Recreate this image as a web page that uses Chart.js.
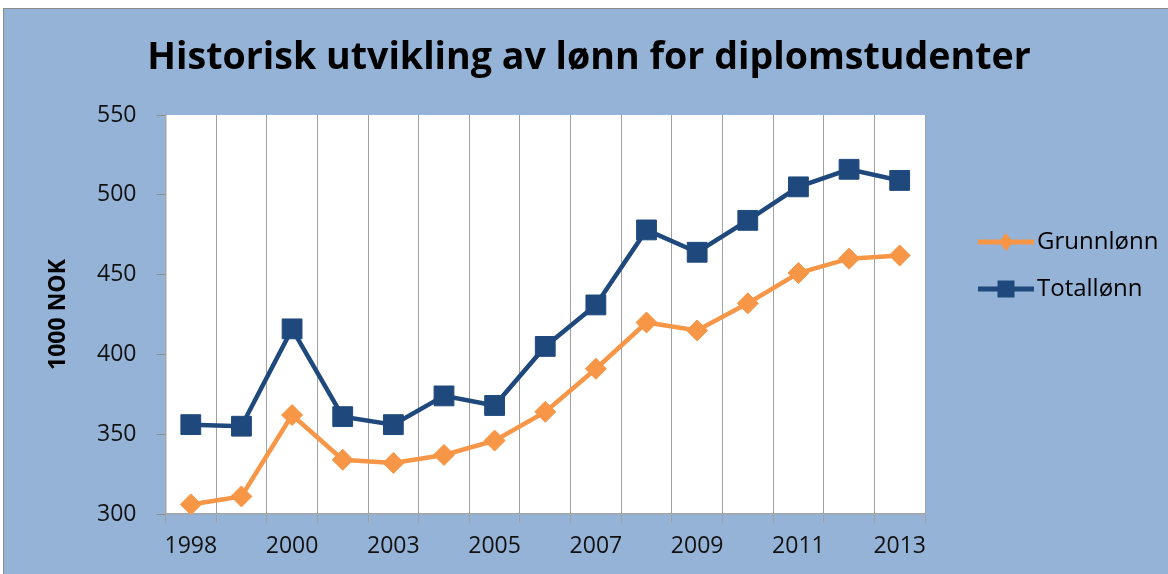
<!DOCTYPE html>
<html>
<head>
<meta charset="utf-8">
<script src="https://cdn.jsdelivr.net/npm/chart.js@4.4.1/dist/chart.umd.min.js"></script>
<style>
  html, body { margin: 0; padding: 0; background: #fff; }
  #panel {
    position: absolute; left: 3px; top: 8px; width: 1165px; height: 566px;
    background: #95B3D7; border-left: 1px solid #8c8c8c; border-top: 1px solid #8c8c8c;
  }
  #wrap { position: absolute; left: 0; top: 0; width: 1164px; height: 565px; }
</style>
</head>
<body>
<div id="panel"><div id="wrap"><canvas id="chart_lonn"></canvas></div></div>
<script>
// years (Excel shows every other label)
const years = ['1998', '1999', '2000', '2002', '2003', '2004', '2005', '2006', '2007', '2008', '2009', '2010', '2011', '2012', '2013'];
const grunnlonn = [306, 311, 362, 334, 332, 337, 346, 364, 391, 420, 415, 432, 451, 460, 462];
const totallonn = [356, 355, 416, 361, 356, 374, 368, 405, 431, 478, 464, 484, 505, 516, 509];
const yTicks = [300, 350, 400, 450, 500, 550];

const orange = '#F79646';
const blue = '#1F497D';

// legend icon: line with marker in the middle, like Excel
function makeLegendIcon(color, kind) {
  const c = document.createElement('canvas');
  c.width = 65;
  c.height = 24;
  const g = c.getContext('2d');
  g.strokeStyle = color;
  g.lineWidth = 5;
  g.beginPath();
  g.moveTo(9, 12);
  g.lineTo(65, 12);
  g.stroke();
  g.fillStyle = color;
  g.beginPath();
  if (kind == 'diamond') {
    g.moveTo(37, 3);
    g.lineTo(44, 12);
    g.lineTo(37, 21);
    g.lineTo(30, 12);
    g.closePath();
  } else {
    g.rect(28.5, 3.5, 17, 17);
  }
  g.fill();
  return c;
}
const legendIcons = [makeLegendIcon(orange, 'diamond'), makeLegendIcon(blue, 'square')];

const plotBackground = {
  id: 'plotBackground',
  beforeDraw(chart) {
    const a = chart.chartArea;
    chart.ctx.save();
    chart.ctx.fillStyle = '#ffffff';
    chart.ctx.fillRect(a.left, a.top, a.right - a.left, a.bottom - a.top);
    chart.ctx.restore();
  }
};

// put the legend where Excel had it
const legendPlace = {
  id: 'legendPlace',
  afterLayout(chart) {
    const lg = chart.legend;
    const w = lg.width, h = lg.height;
    lg.left = 951; lg.right = 951 + w;
    lg.top = 198; lg.bottom = 198 + h;
  }
};

const tickFont = { family: 'Open Sans', size: 23 };

const chartLonn = new Chart(document.getElementById('chart_lonn'), {
  type: 'line',
  data: {
    labels: years,
    datasets: [{
        label: 'Grunnlønn',
        data: grunnlonn,
        borderColor: orange,
        backgroundColor: orange,
        borderWidth: 4.5,
        pointStyle: 'rectRot',
        pointRadius: 10.5,
        pointBorderWidth: 1,
        tension: 0
      }, {
        label: 'Totallønn',
        data: totallonn,
        borderColor: blue,
        backgroundColor: blue,
        borderWidth: 4.5,
        pointStyle: 'rect',
        pointRadius: 14,
        pointBorderWidth: 1,
        tension: 0
      }]
  },
  options: {
    responsive: true,
    maintainAspectRatio: false,
    animation: false,
    layout: { padding: { left: 0, right: 20, top: 0, bottom: 0 } },
    plugins: {
      title: {
        display: true,
        text: 'Historisk utvikling av lønn for diplomstudenter',
        color: '#000',
        font: { family: 'Open Sans', size: 37.6, weight: 'bold', lineHeight: 1.2 },
        padding: { top: 26.4, bottom: 34.5 }
      },
      legend: {
        position: 'right',
        align: 'start',
        labels: {
          color: '#000',
          font: { family: 'Open Sans', size: 24, lineHeight: 1 },
          padding: 23,
          usePointStyle: true,
          pointStyleWidth: 47,
          boxHeight: 24,
          generateLabels: function(chart) {
            return Chart.defaults.plugins.legend.labels.generateLabels(chart).map(function(item, i) {
              item.pointStyle = legendIcons[i];
              return item;
            });
          }
        }
      },
      tooltip: { enabled: false }
    },
    scales: {
      x: {
        offset: true,
        grid: { offset: true, color: '#a0a0a0', lineWidth: 1, tickLength: 9 },
        border: { color: '#a6a6a6', width: 1.5 },
        ticks: {
          color: '#111',
          font: tickFont,
          padding: 10,
          autoSkip: false,
          maxRotation: 0,
          callback: function(val, i) { return i % 2 == 0 ? years[i] : ''; }
        },
        afterFit: function(scale) { scale.height = 60; }
      },
      y: {
        min: yTicks[0],
        max: yTicks[yTicks.length - 1],
        grid: { drawOnChartArea: false, color: '#8c8c8c', tickLength: 9 },
        border: { color: '#a6a6a6', width: 1.5 },
        afterBuildTicks: function(scale) { scale.ticks = yTicks.map(function(v) { return { value: v }; }); },
        ticks: { color: '#111', font: tickFont, padding: 20 },
        title: {
          display: true,
          text: '1000 NOK',
          color: '#000',
          font: { family: 'Open Sans', size: 23, weight: 'bold', lineHeight: 1.2 },
          padding: { top: 41, bottom: 0 }
        },
        afterFit: function(scale) { scale.width = 161.5 - scale.chart.options.layout.padding.left; }
      }
    }
  },
  plugins: [plotBackground, legendPlace]
});

// make the plot area end where the reference ends, and keep the title centred at 585
const dx = chartLonn.chartArea.right - 921;
const padOpts = chartLonn.options.layout.padding;
padOpts.right += dx;
padOpts.left = Math.max(0, padOpts.right + 6);
chartLonn.options.scales.y.title.padding.top = 41 - padOpts.left;
chartLonn.update('none');
</script>
</body>
</html>
